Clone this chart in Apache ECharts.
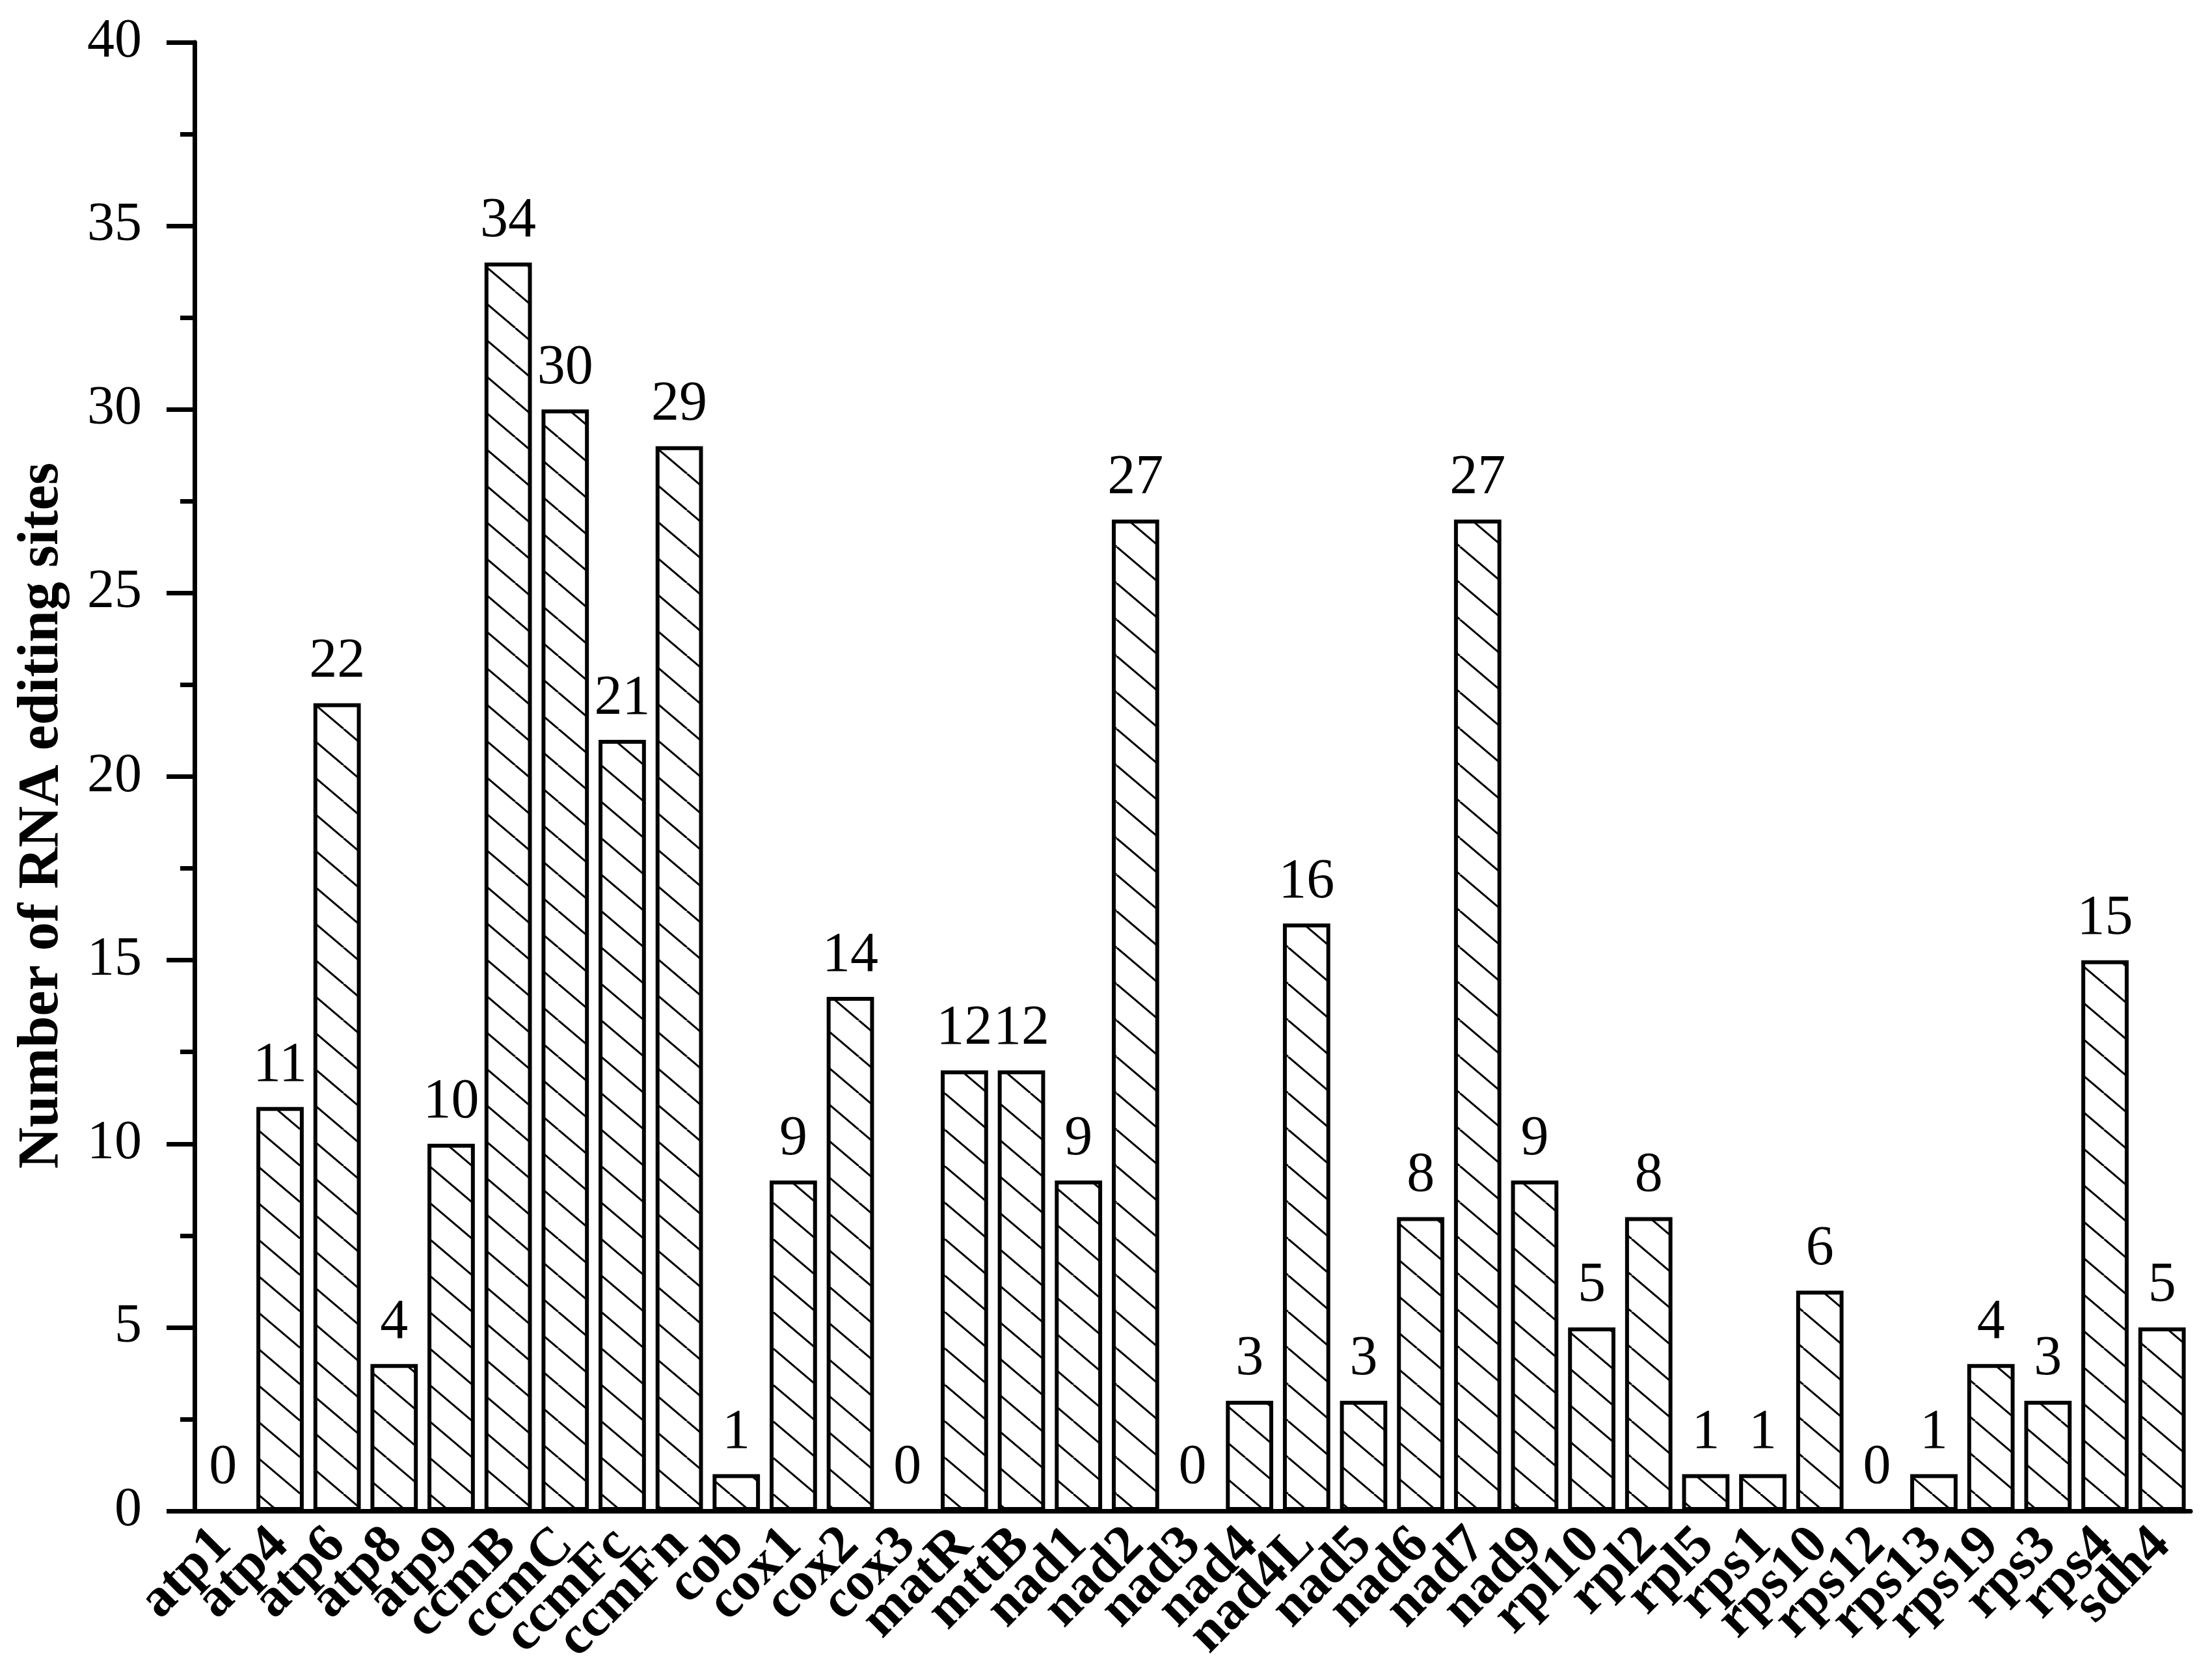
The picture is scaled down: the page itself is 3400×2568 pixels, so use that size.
<!DOCTYPE html>
<html>
<head>
<meta charset="utf-8">
<script src="https://cdn.jsdelivr.net/npm/echarts@6/dist/echarts.min.js"></script>
<style>
  html, body { margin: 0; padding: 0; background: #fff; }
  #chart { width: 3400px; height: 2568px; }
</style>
</head>
<body>
<div id="chart"></div>
<script>
const genes = [
    'atp1', 'atp4', 'atp6', 'atp8', 'atp9', 'ccmB', 'ccmC', 'ccmFc', 'ccmFn',
    'cob', 'cox1', 'cox2', 'cox3', 'matR', 'mttB', 'nad1', 'nad2', 'nad3',
    'nad4', 'nad4L', 'nad5', 'nad6', 'nad7', 'nad9', 'rpl10', 'rpl2', 'rpl5',
    'rps1', 'rps10', 'rps12', 'rps13', 'rps19', 'rps3', 'rps4', 'sdh4'
];
const editingSites = [
    0, 11, 22, 4, 10, 34, 30, 21, 29,
    1, 9, 14, 0, 12, 12, 9, 27, 0,
    3, 16, 3, 8, 27, 9, 5, 8, 1,
    1, 6, 0, 1, 4, 3, 15, 5
];
const yTicks = [0, 5, 10, 15, 20, 25, 30, 35, 40];

const FONT = '"Liberation Serif", "Times New Roman", serif';

// "\" hatch tile for the bars (a bit flatter than 45deg, like the original)
const makeHatch = () => {
    const w = 66;
    const h = 56;
    const c = document.createElement('canvas');
    c.width = w;
    c.height = h;
    const ctx = c.getContext('2d');
    ctx.fillStyle = '#fff';
    ctx.fillRect(0, 0, w, h);
    ctx.strokeStyle = '#000';
    ctx.lineWidth = 3;
    [-w, 0, w].forEach(k => {
        ctx.beginPath();
        ctx.moveTo(k, 0);
        ctx.lineTo(k + w, h);
        ctx.stroke();
    });
    return c;
};

const chart = echarts.init(document.getElementById('chart'), null, { renderer: 'canvas' });

chart.setOption({
    animation: false,
    backgroundColor: '#fff',
    grid: {
        left: 299,
        right: 33,
        top: 65,
        bottom: 246,
        containLabel: false,
    },
    xAxis: {
        type: 'category',
        data: genes,
        axisLine: { lineStyle: { color: '#000', width: 7 } },
        axisTick: { show: false },
        axisLabel: {
            rotate: 45,
            margin: 40,
            interval: 0,
            color: '#000',
            fontFamily: FONT,
            fontWeight: 'bold',
            fontSize: 84,
        },
    },
    yAxis: {
        type: 'value',
        min: yTicks[0],
        max: yTicks[yTicks.length - 1],
        interval: 5,
        name: 'Number of RNA editing sites',
        nameLocation: 'middle',
        nameGap: 190,
        nameTextStyle: {
            color: '#000',
            fontFamily: FONT,
            fontWeight: 'bold',
            fontSize: 88,
            // nudges the rotated title down a little
            padding: [0, 120, 0, 0],
        },
        axisLine: { show: true, lineStyle: { color: '#000', width: 7 } },
        axisTick: { show: true, length: 43, lineStyle: { color: '#000', width: 7 } },
        minorTick: { show: true, splitNumber: 2, length: 22, lineStyle: { color: '#000', width: 7 } },
        splitLine: { show: false },
        axisLabel: {
            margin: 81,
            color: '#000',
            fontFamily: FONT,
            fontSize: 84,
        },
    },
    series: [{
        type: 'bar',
        data: editingSites,
        barCategoryGap: '17%',
        itemStyle: {
            color: { image: makeHatch(), repeat: 'repeat' },
            borderColor: '#000',
            borderWidth: 6,
        },
        label: {
            show: true,
            position: 'top',
            distance: 20,
            color: '#000',
            fontFamily: FONT,
            fontSize: 86,
        },
    }],
});
</script>
</body>
</html>
